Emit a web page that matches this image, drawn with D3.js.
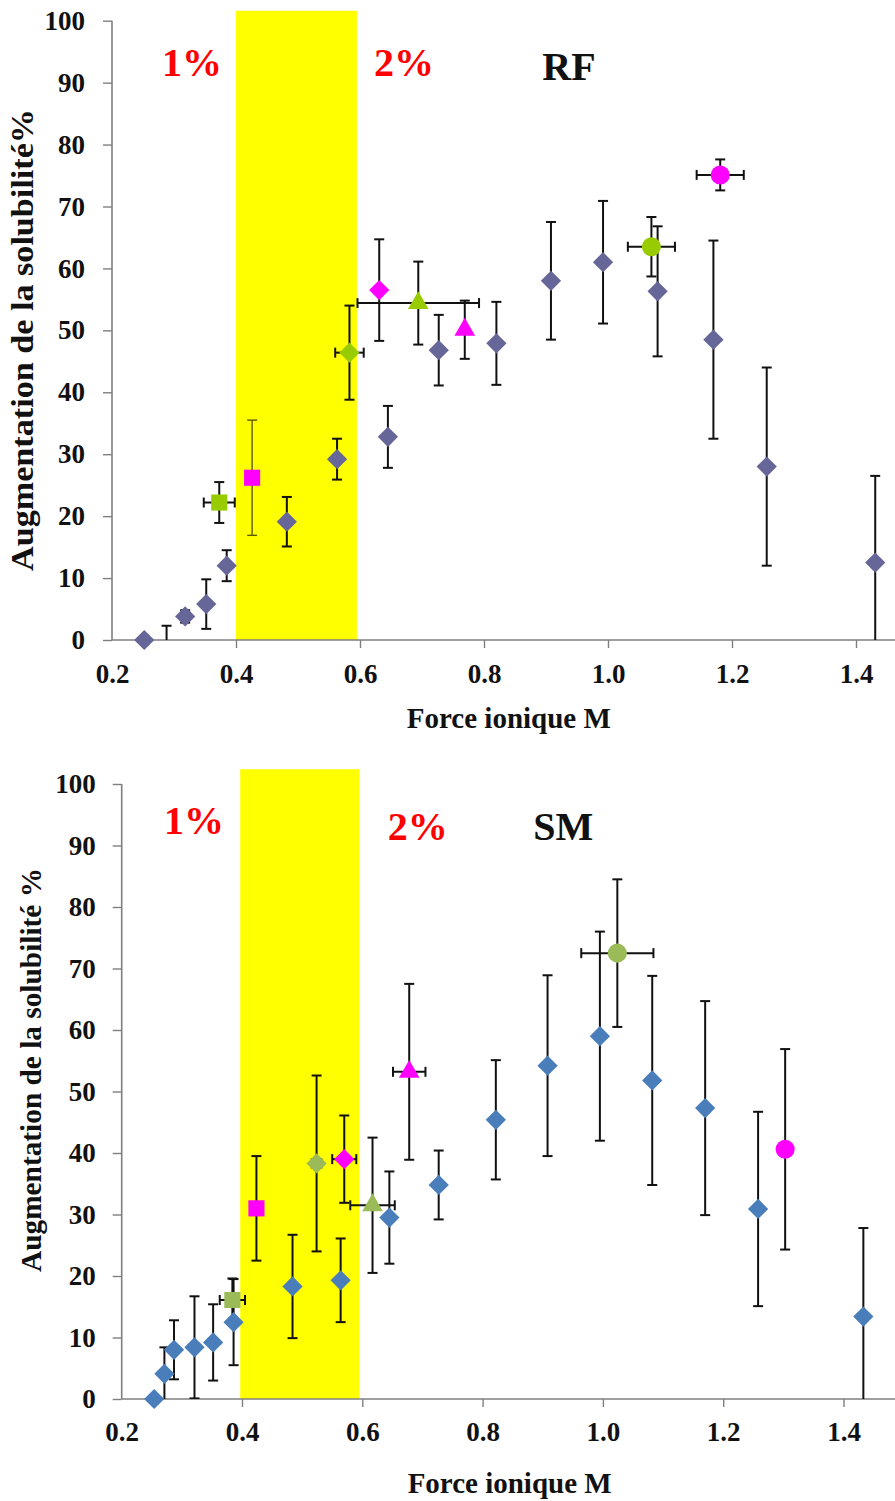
<!DOCTYPE html>
<html><head><meta charset="utf-8">
<script src="https://cdn.jsdelivr.net/npm/d3@7/dist/d3.min.js"></script>
<style>body{margin:0;background:#fff}svg{display:block}svg text{font-family:'Liberation Serif','Times New Roman',serif;font-weight:bold}</style>
</head><body>
<svg id="chart" width="895" height="1501"></svg>
<script>
// ---------- DATA ----------
const xTickValues = [0.2, 0.4, 0.6, 0.8, 1.0, 1.2, 1.4];
const yTickValues = [0, 10, 20, 30, 40, 50, 60, 70, 80, 90, 100];
const xTitle = "Force ionique M";

// yellow zone (ionic strength range)
const rfBand = [0.4, 0.595, 101.6];
const smBand = [0.397, 0.595, 102.4];

// annotations: text, x, y
const rfLabels = ["1%", "2%", "RF"];
const rfLabelX = [0.329, 0.671, 0.937];
const rfLabelY = [91.0, 91.0, 90.5];
const smLabels = ["1%", "2%", "SM"];
const smLabelX = [0.320, 0.692, 0.934];
const smLabelY = [91.9, 90.9, 90.9];

// RF – main series (diamonds)
const rfMainX   = [0.252, 0.288, 0.318, 0.352, 0.385, 0.482, 0.563, 0.645, 0.727, 0.820, 0.908, 0.992, 1.080, 1.170, 1.256, 1.431];
const rfMainY   = [0, -2.0, 3.8, 5.8, 12.0, 19.1, 29.2, 32.8, 46.8, 47.9, 58.0, 61.0, 56.3, 48.5, 28.0, 12.5];
const rfMainErr = [0, 4.3, 1.0, 4.0, 2.5, 4.0, 3.3, 5.0, 5.7, 6.7, 9.5, 9.9, 10.5, 16.0, 16.0, 14.0];
// RF – magenta points (square, diamond, triangle, circle)
const rfMagX    = [0.426, 0.631, 0.769, 1.181];
const rfMagY    = [26.2, 56.5, 50.1, 75.1];
const rfMagYErr = [9.3, 8.2, 4.7, 2.5];
const rfMagXErr = [0, 0, 0, 0.038];
// RF – green points (square, diamond, triangle, circle)
const rfGrnX    = [0.373, 0.583, 0.694, 1.070];
const rfGrnY    = [22.2, 46.4, 54.4, 63.5];
const rfGrnYErr = [3.3, 7.6, 6.7, 4.8];
const rfGrnXErr = [0.025, 0.023, 0.098, 0.038];

// SM – main series (diamonds)
const smMainX   = [0.254, 0.271, 0.287, 0.321, 0.352, 0.386, 0.484, 0.564, 0.645, 0.727, 0.822, 0.908, 0.995, 1.082, 1.170, 1.258, 1.433];
const smMainY   = [0, 4.1, 8.0, 8.4, 9.2, 12.5, 18.3, 19.3, 29.5, 34.8, 45.4, 54.2, 59.0, 51.8, 47.3, 30.9, 13.4];
const smMainErr = [0, 4.3, 4.8, 8.3, 6.2, 7.0, 8.4, 6.8, 7.5, 5.6, 9.7, 14.7, 17.0, 17.0, 17.4, 15.8, 14.4];
// SM – magenta points (square, diamond, triangle, circle)
const smMagX    = [0.424, 0.570, 0.678, 1.303];
const smMagY    = [31.0, 39.0, 53.2, 40.6];
const smMagYErr = [8.5, 7.1, 14.3, 16.3];
const smMagXErr = [0, 0.02, 0.027, 0];
// SM – green points (square, diamond, triangle, circle)
const smGrnX    = [0.384, 0.524, 0.617, 1.024];
const smGrnY    = [16.1, 38.3, 31.5, 72.5];
const smGrnYErr = [3.5, 14.3, 11.0, 12.0];
const smGrnXErr = [0.021, 0.008, 0.037, 0.06];

// ---------- DRAWING ----------
const FONT = "'Liberation Serif','Times New Roman',serif";
const svg = d3.select("#chart");
const shapes4 = ["square", "diamond", "triangle", "circle"];

function symbolPath(shape) {
  if (shape === "diamond") return d3.symbol(d3.symbolSquare, 205)();
  if (shape === "square") return d3.symbol(d3.symbolSquare, 260)();
  if (shape === "triangle") return d3.symbol(d3.symbolTriangle, 185)();
  return d3.symbol(d3.symbolCircle, 285)();
}

function zip(xs, ys, ye, xe, shape, color, errColor) {
  return xs.map((x, i) => ({
    x, y: ys[i], ye: ye ? ye[i] : 0, xe: xe ? xe[i] : 0,
    shape: Array.isArray(shape) ? shape[i] : shape,
    color, errColor: Array.isArray(errColor) ? errColor[i] : errColor
  }));
}

function styleText(sel, size, fill) {
  return sel.style("font-family", FONT).style("font-weight", "bold")
    .style("font-size", size + "px").attr("fill", fill || "#111");
}

function drawPanel(p) {
  const g = svg.append("g");
  const x = d3.scaleLinear().domain([0.2, 1.5]).range([p.x0, p.x0 + 1.3 * p.pxPerUnit]);
  const y = d3.scaleLinear().domain([0, 100]).range([p.yBottom, p.yTop]);

  const clipId = "clip" + p.id;
  svg.append("clipPath").attr("id", clipId).append("rect")
    .attr("x", 0).attr("y", 0).attr("width", 895).attr("height", p.yBottom);

  // yellow band
  g.append("rect")
    .attr("x", x(p.band[0])).attr("width", x(p.band[1]) - x(p.band[0]))
    .attr("y", y(p.band[2])).attr("height", y(0) - y(p.band[2]))
    .attr("fill", "#FFFF00");

  // axes
  const axisColor = "#7f7f7f";
  const yAxis = g.append("g").attr("transform", `translate(${x(0.2)},0)`)
    .call(d3.axisLeft(y).tickValues(yTickValues).tickSize(9).tickPadding(p.yPad).tickFormat(d3.format("d")));
  const xAxis = g.append("g").attr("transform", `translate(0,${y(0)})`)
    .call(d3.axisBottom(x).tickValues(xTickValues).tickSize(8).tickPadding(p.xPad).tickFormat(d3.format(".1f")));
  [xAxis, yAxis].forEach(a => {
    a.attr("font-family", null).attr("font-size", null);
    a.select(".domain").attr("stroke", axisColor).attr("stroke-width", 1.6);
    a.selectAll(".tick line").attr("stroke", axisColor).attr("stroke-width", 1.4);
    styleText(a.selectAll("text"), 27);
  });
  yAxis.select(".domain").attr("d", `M0,${y(0)}V${y(100)}`);
  xAxis.select(".domain").attr("d", `M${x(0.2)},0H${x(1.5)}`);
  xAxis.selectAll(".tick").filter(d => d === 0.2).select("line").remove();

  // axis titles
  styleText(g.append("text").attr("x", x(p.xTitleX)).attr("y", p.xTitleY)
    .attr("text-anchor", "middle"), 29).text(xTitle);
  styleText(g.append("text")
    .attr("transform", `translate(${p.yTitleX},${p.yTitleY}) rotate(-90)`)
    .attr("text-anchor", "middle")
    .attr("textLength", p.yTitleLen).attr("lengthAdjust", "spacingAndGlyphs"), p.yTitleSize)
    .text(p.yTitle);

  // annotations
  p.labels.forEach((t, i) => {
    styleText(g.append("text").attr("x", x(p.labelX[i])).attr("y", y(p.labelY[i]))
      .attr("text-anchor", "middle"), 40, t.includes("%") ? "#FF0000" : "#111").text(t);
  });

  const plot = g.append("g").attr("clip-path", `url(#${clipId})`);
  const pts = p.series.flat();
  const cap = 5;
  // error bars (clipped to the plot area)
  pts.forEach(d => {
    const eb = plot.append("g").attr("stroke", d.errColor || "#111")
      .attr("stroke-width", d.errColor ? 1.4 : 2).attr("fill", "none");
    if (d.ye > 0) {
      eb.append("line").attr("x1", x(d.x)).attr("x2", x(d.x)).attr("y1", y(d.y - d.ye)).attr("y2", y(d.y + d.ye));
      [d.y - d.ye, d.y + d.ye].forEach(v => eb.append("line")
        .attr("x1", x(d.x) - cap).attr("x2", x(d.x) + cap).attr("y1", y(v)).attr("y2", y(v)));
    }
    if (d.xe > 0) {
      eb.append("line").attr("x1", x(d.x - d.xe)).attr("x2", x(d.x + d.xe)).attr("y1", y(d.y)).attr("y2", y(d.y));
      [d.x - d.xe, d.x + d.xe].forEach(v => eb.append("line")
        .attr("x1", x(v)).attr("x2", x(v)).attr("y1", y(d.y) - cap).attr("y2", y(d.y) + cap));
    }
  });
  // markers (points outside the y range are not drawn)
  g.append("g").selectAll("path").data(pts.filter(d => d.y >= 0)).join("path")
    .attr("d", d => symbolPath(d.shape))
    .attr("transform", d => `translate(${x(d.x)},${y(d.y)})` + (d.shape === "diamond" ? " rotate(45)" : ""))
    .attr("fill", d => d.color);
}

drawPanel({
  id: "rf", x0: 112, pxPerUnit: 620, yBottom: 640, yTop: 20.7, band: rfBand,
  yPad: 18, xPad: 16, xTitleX: 0.840, xTitleY: 728,
  yTitle: "Augmentation de la solubilité%", yTitleX: 33, yTitleY: 340, yTitleSize: 31, yTitleLen: 462,
  labels: rfLabels, labelX: rfLabelX, labelY: rfLabelY,
  series: [
    zip(rfMainX, rfMainY, rfMainErr, null, "diamond", "#666699"),
    zip(rfMagX, rfMagY, rfMagYErr, rfMagXErr, shapes4, "#FF00FF", ["#5c5c00", null, null, null]),
    zip(rfGrnX, rfGrnY, rfGrnYErr, rfGrnXErr, shapes4, "#99CC00")
  ]
});

drawPanel({
  id: "sm", x0: 121.7, pxPerUnit: 601.5, yBottom: 1399, yTop: 784, band: smBand,
  yPad: 17, xPad: 15, xTitleX: 0.845, xTitleY: 1493,
  yTitle: "Augmentation de la solubilité %", yTitleX: 41, yTitleY: 1070, yTitleSize: 29, yTitleLen: 404,
  labels: smLabels, labelX: smLabelX, labelY: smLabelY,
  series: [
    zip(smMainX, smMainY, smMainErr, null, "diamond", "#4A7EBB"),
    zip(smMagX, smMagY, smMagYErr, smMagXErr, shapes4, "#FF00FF"),
    zip(smGrnX, smGrnY, smGrnYErr, smGrnXErr, shapes4, "#9BBB59")
  ]
});
</script>
</body></html>
